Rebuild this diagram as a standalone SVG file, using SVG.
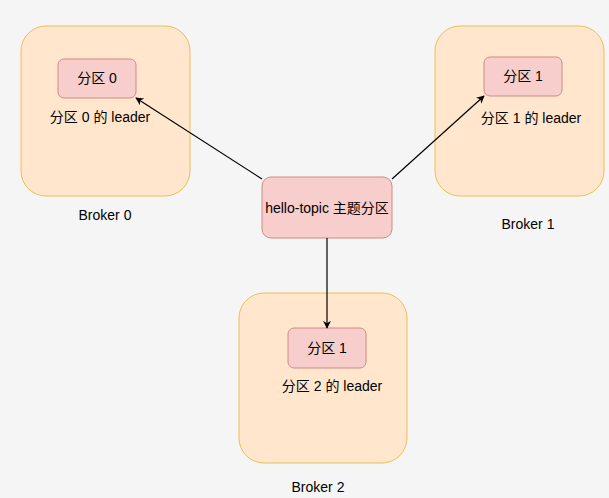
<svg xmlns="http://www.w3.org/2000/svg" width="609" height="498" viewBox="0 0 609 498">
<defs>
<style>
.broker{fill:#ffe6cc;stroke:#e8c05a;stroke-width:1}
.part{fill:#f8cecc;stroke:#d08a86;stroke-width:1}
text{font-family:"Liberation Sans","Noto Sans CJK SC",sans-serif;font-size:14px;fill:#000;text-anchor:middle;dominant-baseline:central}
.edge{stroke:#000;stroke-width:1.2;fill:none;marker-end:url(#arr)}
</style>
<marker id="arr" viewBox="0 0 10 10" refX="9" refY="5" markerWidth="8" markerHeight="8" orient="auto" markerUnits="userSpaceOnUse">
<path d="M0,0 L10,5 L0,10 L3,5 Z" fill="#000"/>
</marker>
</defs>
<rect width="609" height="498" fill="#f5f5f5"/>
<g id="broker0">
<rect class="broker" x="21" y="26" width="169" height="170" rx="25"/>
<text x="105" y="215">Broker 0</text>
</g>
<g id="broker1">
<rect class="broker" x="435" y="26" width="169" height="170" rx="25"/>
<text x="528" y="224">Broker 1</text>
</g>
<g id="broker2">
<rect class="broker" x="239" y="293" width="168" height="170" rx="25"/>
<text x="318" y="487">Broker 2</text>
</g>
<g id="p0">
<rect class="part" x="58" y="59" width="78" height="39" rx="6"/>
<text x="97" y="78">分区 0</text>
<text x="100" y="117">分区 0 的 leader</text>
</g>
<g id="p1">
<rect class="part" x="484" y="57" width="78" height="39" rx="6"/>
<text x="523" y="76">分区 1</text>
<text x="531" y="118">分区 1 的 leader</text>
</g>
<g id="p2">
<rect class="part" x="288" y="328" width="78" height="40" rx="6"/>
<text x="327" y="348">分区 1</text>
<text x="332" y="386">分区 2 的 leader</text>
</g>
<g id="topic">
<rect class="part" x="262" y="177" width="130" height="61" rx="9"/>
<text x="327" y="208">hello-topic 主题分区</text>
</g>
<g id="connectors">
<path class="edge" d="M262,179 L136,98"/>
<path class="edge" d="M392,179 L484,96"/>
<path class="edge" d="M327,238 L327,328"/>
</g>
</svg>
